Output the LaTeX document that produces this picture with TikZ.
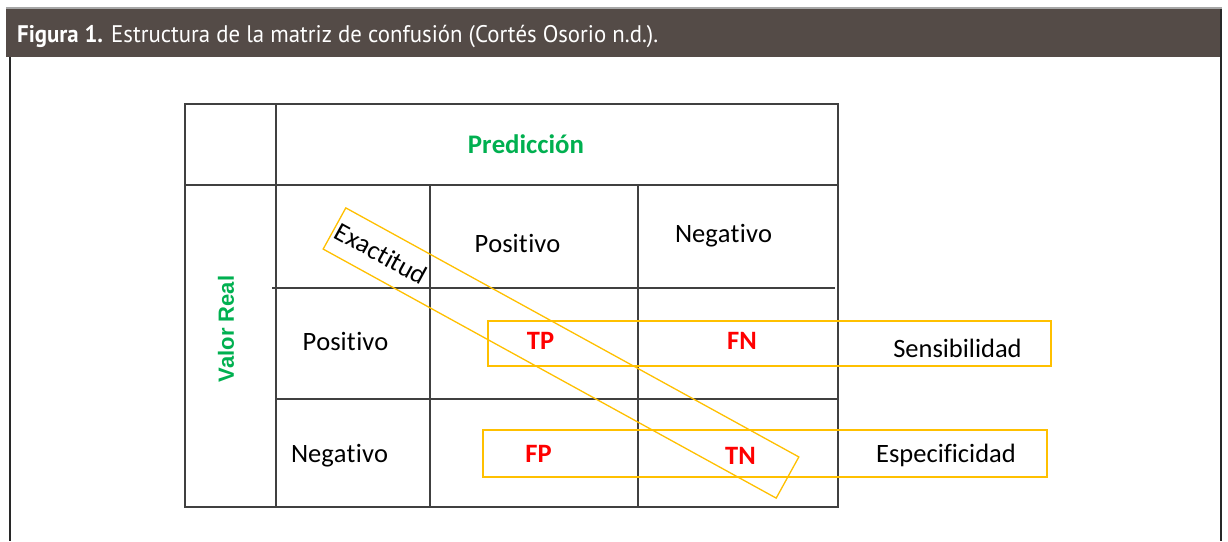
\documentclass[tikz,border=0pt]{standalone}
\usepackage{fontspec}
\usepackage{graphicx}
\setmainfont{Carlito}[Ligatures={NoCommon,NoContextual,NoRare},Kerning=Off]
\newfontfamily\arialf{Liberation Sans}
\newfontfamily\titlef{PT Sans}
\definecolor{band}{RGB}{84,75,71}
\definecolor{framec}{RGB}{40,40,40}
\definecolor{gridc}{RGB}{64,64,64}
\definecolor{yel}{RGB}{255,192,0}
\definecolor{grn}{RGB}{0,176,80}
\definecolor{rd}{RGB}{255,0,0}
\newcommand{\tI}{t\kern0.6pt i}
\tikzset{
  cell/.style={anchor=base, inner sep=0pt, font=\fontsize{26.5}{30}\selectfont},
  redcell/.style={cell, text=rd, font=\fontsize{26.5}{30}\selectfont\bfseries},
  ybox/.style={draw=yel, line width=1.3pt},
  grid/.style={draw=gridc, line width=1.4pt},
}
\begin{document}
\begin{tikzpicture}[x=1pt,y=-1pt]
\useasboundingbox (0,0) rectangle (1228,541);
\fill[white] (0,0) rectangle (1228,541);
% frame and header band
\draw[gray!70, line width=1.5pt] (6,8) -- (1222,8);
\fill[band] (6,9) rectangle (1222,57);
\draw[framec, line width=2pt] (10,57) -- (10,541);
\draw[framec, line width=2pt] (1221,9) -- (1221,541);
\node[anchor=base west, inner sep=0pt, text=white] (title) at (17,42)
  {\resizebox{641pt}{\height}{\titlef\fontsize{24}{27}\selectfont\textbf{Figura 1.} Estructura de la matriz de confusión (Cortés Osorio n.d.).}};
% table grid
\draw[grid] (185,104) rectangle (838,507);
\draw[grid] (185,185) -- (838,185);
\draw[grid] (276,104) -- (276,507);
\draw[grid] (430,185) -- (430,507);
\draw[grid] (638,185) -- (638,508);
\draw[grid] (272,288) -- (835,288);
\draw[grid] (276,399) -- (838,399);
% yellow boxes
\node[ybox, rectangle, minimum width=563pt, minimum height=45pt, inner sep=0pt] (sens) at (769.5,343.5) {};
\node[ybox, rectangle, minimum width=564pt, minimum height=47pt, inner sep=0pt] (espe) at (765,453.5) {};
\node[ybox, rectangle, rotate=-28.8, minimum width=517pt, minimum height=47pt, inner sep=0pt] (exa) at (561,353) {};
\node[rotate=-28.8, anchor=west, inner sep=0pt, font=\fontsize{26.5}{30}\selectfont] (exatxt) at ([shift={(3pt,-1pt)}]exa.west) {Exac\tI tud};
% labels
\node[cell, text=grn, font=\fontsize{26.8}{30}\selectfont\bfseries] (pred) at (526,153) {Predicción};
\node[inner sep=0pt, rotate=90, text=grn, font=\arialf\fontsize{22}{26}\selectfont\bfseries] (real) at (226,329) {Valor Real};
\node[cell] (cpos) at (517.5,252) {Posi\tI vo};
\node[cell] (cneg) at (723.5,242) {Nega\tI vo};
\node[cell] (rpos) at (345.5,350) {Posi\tI vo};
\node[cell] (rneg) at (339.5,462) {Nega\tI vo};
\node[redcell] (tp) at (540.5,349) {TP};
\node[redcell] (fn) at (742,349) {FN};
\node[redcell] (fp) at (538.5,462) {FP};
\node[redcell] (tn) at (740.5,464) {TN};
\node[cell] (sensl) at (957.5,357) {Sensibilidad};
\node[cell] (espel) at (946,462) {Especificidad};
\end{tikzpicture}
\end{document}
